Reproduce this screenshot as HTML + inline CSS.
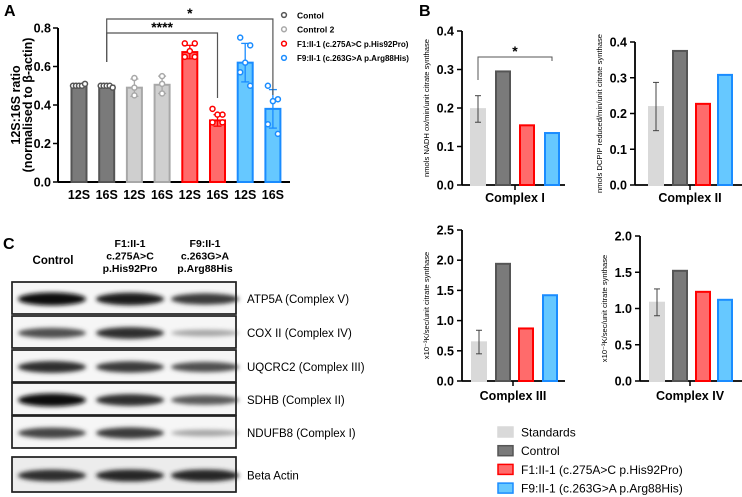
<!DOCTYPE html>
<html><head><meta charset="utf-8"><style>
body{margin:0;background:#fff;}
svg{display:block;font-family:"Liberation Sans",Arial,sans-serif;}
</style></head><body>
<svg id="fig" width="742" height="497" viewBox="0 0 742 497" xmlns="http://www.w3.org/2000/svg">
<defs>
<filter id="blur" x="-20%" y="-100%" width="140%" height="300%"><feGaussianBlur stdDeviation="2.2"/></filter>
</defs>
<text x="4" y="16" font-size="16" font-weight="bold">A</text>
<text x="419" y="16" font-size="16" font-weight="bold">B</text>
<text x="3" y="249" font-size="16" font-weight="bold">C</text>
<g id="gA"></g>
<g id="gB"></g>
<g id="gC"></g>
</svg>
<script>
// ---- Panel A data ----
const aCats=["12S","16S","12S","16S","12S","16S","12S","16S"];
const aMeans=[0.50,0.50,0.49,0.505,0.675,0.32,0.62,0.38];
const aPts=[[0.50,0.50,0.50,0.50,0.51],[0.50,0.50,0.50,0.50,0.49],[0.54,0.49,0.45],[0.55,0.51,0.46],[0.72,0.72,0.68,0.65,0.65],[0.38,0.35,0.35,0.31,0.31],[0.75,0.71,0.62,0.57,0.50],[0.50,0.43,0.42,0.30,0.25]];
const aSD=[0.005,0.005,0.045,0.045,0.035,0.03,0.1,0.1];
const aGroup=[0,0,1,1,2,2,3,3];
const aTicks=[0,0.2,0.4,0.6,0.8];
const aLegend=["Contol","Control 2","F1:II-1 (c.275A>C p.His92Pro)","F9:II-1 (c.263G>A p.Arg88His)"];
// ---- Panel B data ----
const bPanels=["Complex I","Complex II","Complex III","Complex IV"];
const bValues=[[0.197,0.295,0.155,0.135],[0.218,0.375,0.227,0.308],[0.64,1.94,0.87,1.42],[1.08,1.52,1.23,1.12]];
const bErr=[[0.163,0.232],[0.152,0.287],[0.45,0.84],[0.90,1.27]];
const bTicks=[[0,0.1,0.2,0.3,0.4],[0,0.1,0.2,0.3,0.4],[0,0.5,1.0,1.5,2.0,2.5],[0,0.5,1.0,1.5,2.0]];
const bYTitles=["nmols NADH ox/min/unit citrate synthase","nmols DCPIP reduced/min/unit citrate synthase","x10\u207B\u00B3K/sec/unit citrate synthase","x10\u207B\u00B3K/sec/unit citrate synthase"];
const bLegend=["Standards","Control","F1:II-1 (c.275A>C p.His92Pro)","F9:II-1 (c.263G>A p.Arg88His)"];
// ---- Panel C data ----
const cLanes=["Control","F1:II-1|c.275A>C|p.His92Pro","F9:II-1|c.263G>A|p.Arg88His"];
const cProteins=["ATP5A (Complex V)","COX II (Complex IV)","UQCRC2 (Complex III)","SDHB (Complex II)","NDUFB8 (Complex I)","Beta Actin"];
const cIntensity=[[1.0,0.95,0.8],[0.7,0.85,0.3],[0.85,0.8,0.7],[1.0,0.85,0.65],[0.75,0.8,0.3],[0.85,0.9,0.9]];

const NS="http://www.w3.org/2000/svg";
function mk(tag,attrs,parent,txt){const e=document.createElementNS(NS,tag);for(const k in attrs)e.setAttribute(k,attrs[k]);if(txt!==undefined)e.textContent=txt;parent.appendChild(e);return e;}

const fillsA=["#7a7a7a","#cfcfcf","#ff6b6b","#66c8ff"];
const strokesA=["#555","#a8a8a8","#ff0000","#1a8cff"];

// Panel A
(function(){
 const g=document.getElementById('gA');
 const x0=58,yB=182,yT=28,vmax=0.8;
 const y=v=>yB-(v/vmax)*(yB-yT);
 const xc=i=>79+i*27.7;
 let l=mk('line',{x1:x0,y1:yT,x2:x0,y2:yB,stroke:'#000','stroke-width':2},g);
 
 l=mk('line',{x1:x0,y1:yB,x2:290,y2:yB,stroke:'#000','stroke-width':2},g);
 
 aTicks.forEach(t=>{
  mk('line',{x1:x0-5,y1:y(t),x2:x0,y2:y(t),stroke:'#000','stroke-width':1.5},g);
  const tx=mk('text',{x:x0-7,y:y(t)+4.5,'text-anchor':'end','font-size':12.5,'font-weight':'bold'},g,t.toFixed(1));
  
 });
 let tt=mk('text',{transform:'translate(20,105) rotate(-90)','text-anchor':'middle','font-size':12.5,'font-weight':'bold'},g,'12S:16S ratio');
 
 tt=mk('text',{transform:'translate(32,105) rotate(-90)','text-anchor':'middle','font-size':12.5,'font-weight':'bold'},g,'(normalised to β-actin)');
 
 aMeans.forEach((m,i)=>{
  const gi=aGroup[i],cx=xc(i);
  const r=mk('rect',{x:cx-7.5,y:y(m),width:15,height:yB-y(m),fill:fillsA[gi],stroke:strokesA[gi],'stroke-width':2},g);
  
  const sc=strokesA[gi];
  mk('line',{x1:cx,y1:y(m+aSD[i]),x2:cx,y2:y(m-aSD[i]),stroke:sc,'stroke-width':1.3},g);
  mk('line',{x1:cx-4,y1:y(m+aSD[i]),x2:cx+4,y2:y(m+aSD[i]),stroke:sc,'stroke-width':1.3},g);
  mk('line',{x1:cx-4,y1:y(m-aSD[i]),x2:cx+4,y2:y(m-aSD[i]),stroke:sc,'stroke-width':1.3},g);
  const pts=aPts[i],n=pts.length;
  const offs5=[-5,5,0,-5,5],offs5flat=[-6,-3,0,3,6],offs3=[0,0,0];
  const flat=gi===0;
  pts.forEach((p,j)=>{
   const off=n===3?offs3[j]:(flat?offs5flat[j]:offs5[j]);
   const c=mk('circle',{cx:cx+off,cy:y(p),r:2.5,fill:'#fff',stroke:sc,'stroke-width':1.5},g);
   
  });
  const lb=mk('text',{x:cx,y:199,'text-anchor':'middle','font-size':12.5,'font-weight':'bold'},g,aCats[i]);
  
 });
 const br=(x1,x2,yt,yl,yr,lab,ly)=>{
  mk('polyline',{points:`${x1},${yl} ${x1},${yt} ${x2},${yt} ${x2},${yr}`,fill:'none',stroke:'#555','stroke-width':1.2},g);
  const s=mk('text',{x:(x1+x2)/2,y:ly,'text-anchor':'middle','font-size':14,'font-weight':'bold'},g,lab);
  
 };
 br(xc(1),xc(7),19,62,95,'*',18);
 br(xc(1),xc(5),33,62,98,'****',32);
 aLegend.forEach((t,i)=>{
  const yy=15+i*14.3;
  mk('circle',{cx:284,cy:yy,r:2.4,fill:'#fff',stroke:strokesA[i],'stroke-width':1.5},g);
  const lt=mk('text',{x:297,y:yy+3.3,'font-size':i<2?8.5:8,'font-weight':'bold'},g,t);
  
 });
})();

// Panel B
(function(){
 const g=document.getElementById('gB');
 const fillsB=["#d9d9d9","#7a7a7a","#ff6b6b","#66c8ff"];
 const bStroke=["#d9d9d9","#555","#ff0000","#1a8cff"];
 const layout=[{x0:462,yB:185,yT:31,xs:[478,503,527,552],xe:565,lab:515,ly:202},
               {x0:635,yB:185,yT:42,xs:[656,680,703,725],xe:742,lab:690,ly:202},
               {x0:462,yB:381,yT:230,xs:[479,503,526,550],xe:565,lab:513,ly:400},
               {x0:640,yB:381,yT:236,xs:[657,680,703,725],xe:742,lab:690,ly:400}];
 layout.forEach((L,p)=>{
  const tk=bTicks[p],vmax=tk[tk.length-1];
  const y=v=>L.yB-(v/vmax)*(L.yB-L.yT);
  let a=mk('line',{x1:L.x0,y1:L.yT,x2:L.x0,y2:L.yB,stroke:'#000','stroke-width':1.8},g);
  
  a=mk('line',{x1:L.x0,y1:L.yB,x2:L.xe,y2:L.yB,stroke:'#000','stroke-width':1.8},g);
  
  mk('line',{x1:L.lab,y1:L.yB,x2:L.lab,y2:L.yB+5,stroke:'#000','stroke-width':1.5},g);
  tk.forEach(t=>{
   mk('line',{x1:L.x0-5,y1:y(t),x2:L.x0,y2:y(t),stroke:'#000','stroke-width':1.5},g);
   const tx=mk('text',{x:L.x0-8,y:y(t)+4.5,'text-anchor':'end','font-size':12.5,'font-weight':'bold'},g,t.toFixed(1));
   
  });
  const yt=mk('text',{transform:`translate(${L.x0-33},${(L.yT+L.yB)/2}) rotate(-90)`,'text-anchor':'middle','font-size':7.6},g,bYTitles[p]);
  
  bValues[p].forEach((v,i)=>{
   const cx=L.xs[i];
   const r=mk('rect',{x:cx-7,y:y(v),width:14,height:L.yB-y(v),fill:fillsB[i],stroke:bStroke[i],'stroke-width':2},g);
   
  });
  const e=bErr[p],cx=L.xs[0];
  mk('line',{x1:cx,y1:y(e[0]),x2:cx,y2:y(e[1]),stroke:'#444','stroke-width':1},g);
  mk('line',{x1:cx-3,y1:y(e[0]),x2:cx+3,y2:y(e[0]),stroke:'#444','stroke-width':1},g);
  mk('line',{x1:cx-3,y1:y(e[1]),x2:cx+3,y2:y(e[1]),stroke:'#444','stroke-width':1},g);
  const xl=mk('text',{x:L.lab,y:L.ly,'text-anchor':'middle','font-size':12.5,'font-weight':'bold'},g,bPanels[p]);
  
  if(p===0){
   mk('polyline',{points:`${L.xs[0]},80 ${L.xs[0]},57 ${L.xs[3]},57 ${L.xs[3]},61`,fill:'none',stroke:'#555','stroke-width':1},g);
   const s=mk('text',{x:515,y:56,'text-anchor':'middle','font-size':14,'font-weight':'bold'},g,'*');
   
  }
 });
 bLegend.forEach((t,i)=>{
  const yy=432+i*18.7;
  const r=mk('rect',{x:498,y:yy-5,width:15,height:10,fill:fillsB[i],stroke:bStroke[i],'stroke-width':1.5},g);
  
  const lt=mk('text',{x:521,y:yy+4.5,'font-size':12},g,t);
  
 });
})();

// Panel C
(function(){
 const g=document.getElementById('gC');
 const laneX=[57,130,205];
 cLanes.forEach((t,i)=>{
  const parts=t.split('|');
  parts.forEach((s,k)=>{
   const yy=parts.length===1?264:247+k*12.5;
   const tx=mk('text',{x:laneX[i]-(i===0?4:0),y:yy,'text-anchor':'middle','font-size':i===0?11.5:10.5,'font-weight':'bold'},g,s);
   
  });
 });
 const rows=[[282,314],[316,348],[350,382],[383,415],[416,448],[457,492]];
 rows.forEach((rw,ri)=>{
  const [t,b]=rw,h=b-t,cy=(t+b)/2+1;
  const bg=mk('rect',{x:12,y:t,width:224,height:h,fill:ri===5?'#ececec':'#f6f6f6',stroke:'#222','stroke-width':1.5},g);
  
  cIntensity[ri].forEach((v,li)=>{
   const c=Math.round(230-v*215);
   const e=mk('ellipse',{cx:laneX[li]-(li===0?5:0),cy:cy,rx:34,ry:2+v*4.5,fill:`rgb(${c},${c},${c})`,filter:'url(#blur)'},g);
   
  });
  mk('rect',{x:12,y:t,width:224,height:h,fill:'none',stroke:'#222','stroke-width':1.5},g);
  const lb=mk('text',{x:247,y:cy+4,'font-size':11.5},g,cProteins[ri]);
  
 });
})();
</script>
</body></html>
